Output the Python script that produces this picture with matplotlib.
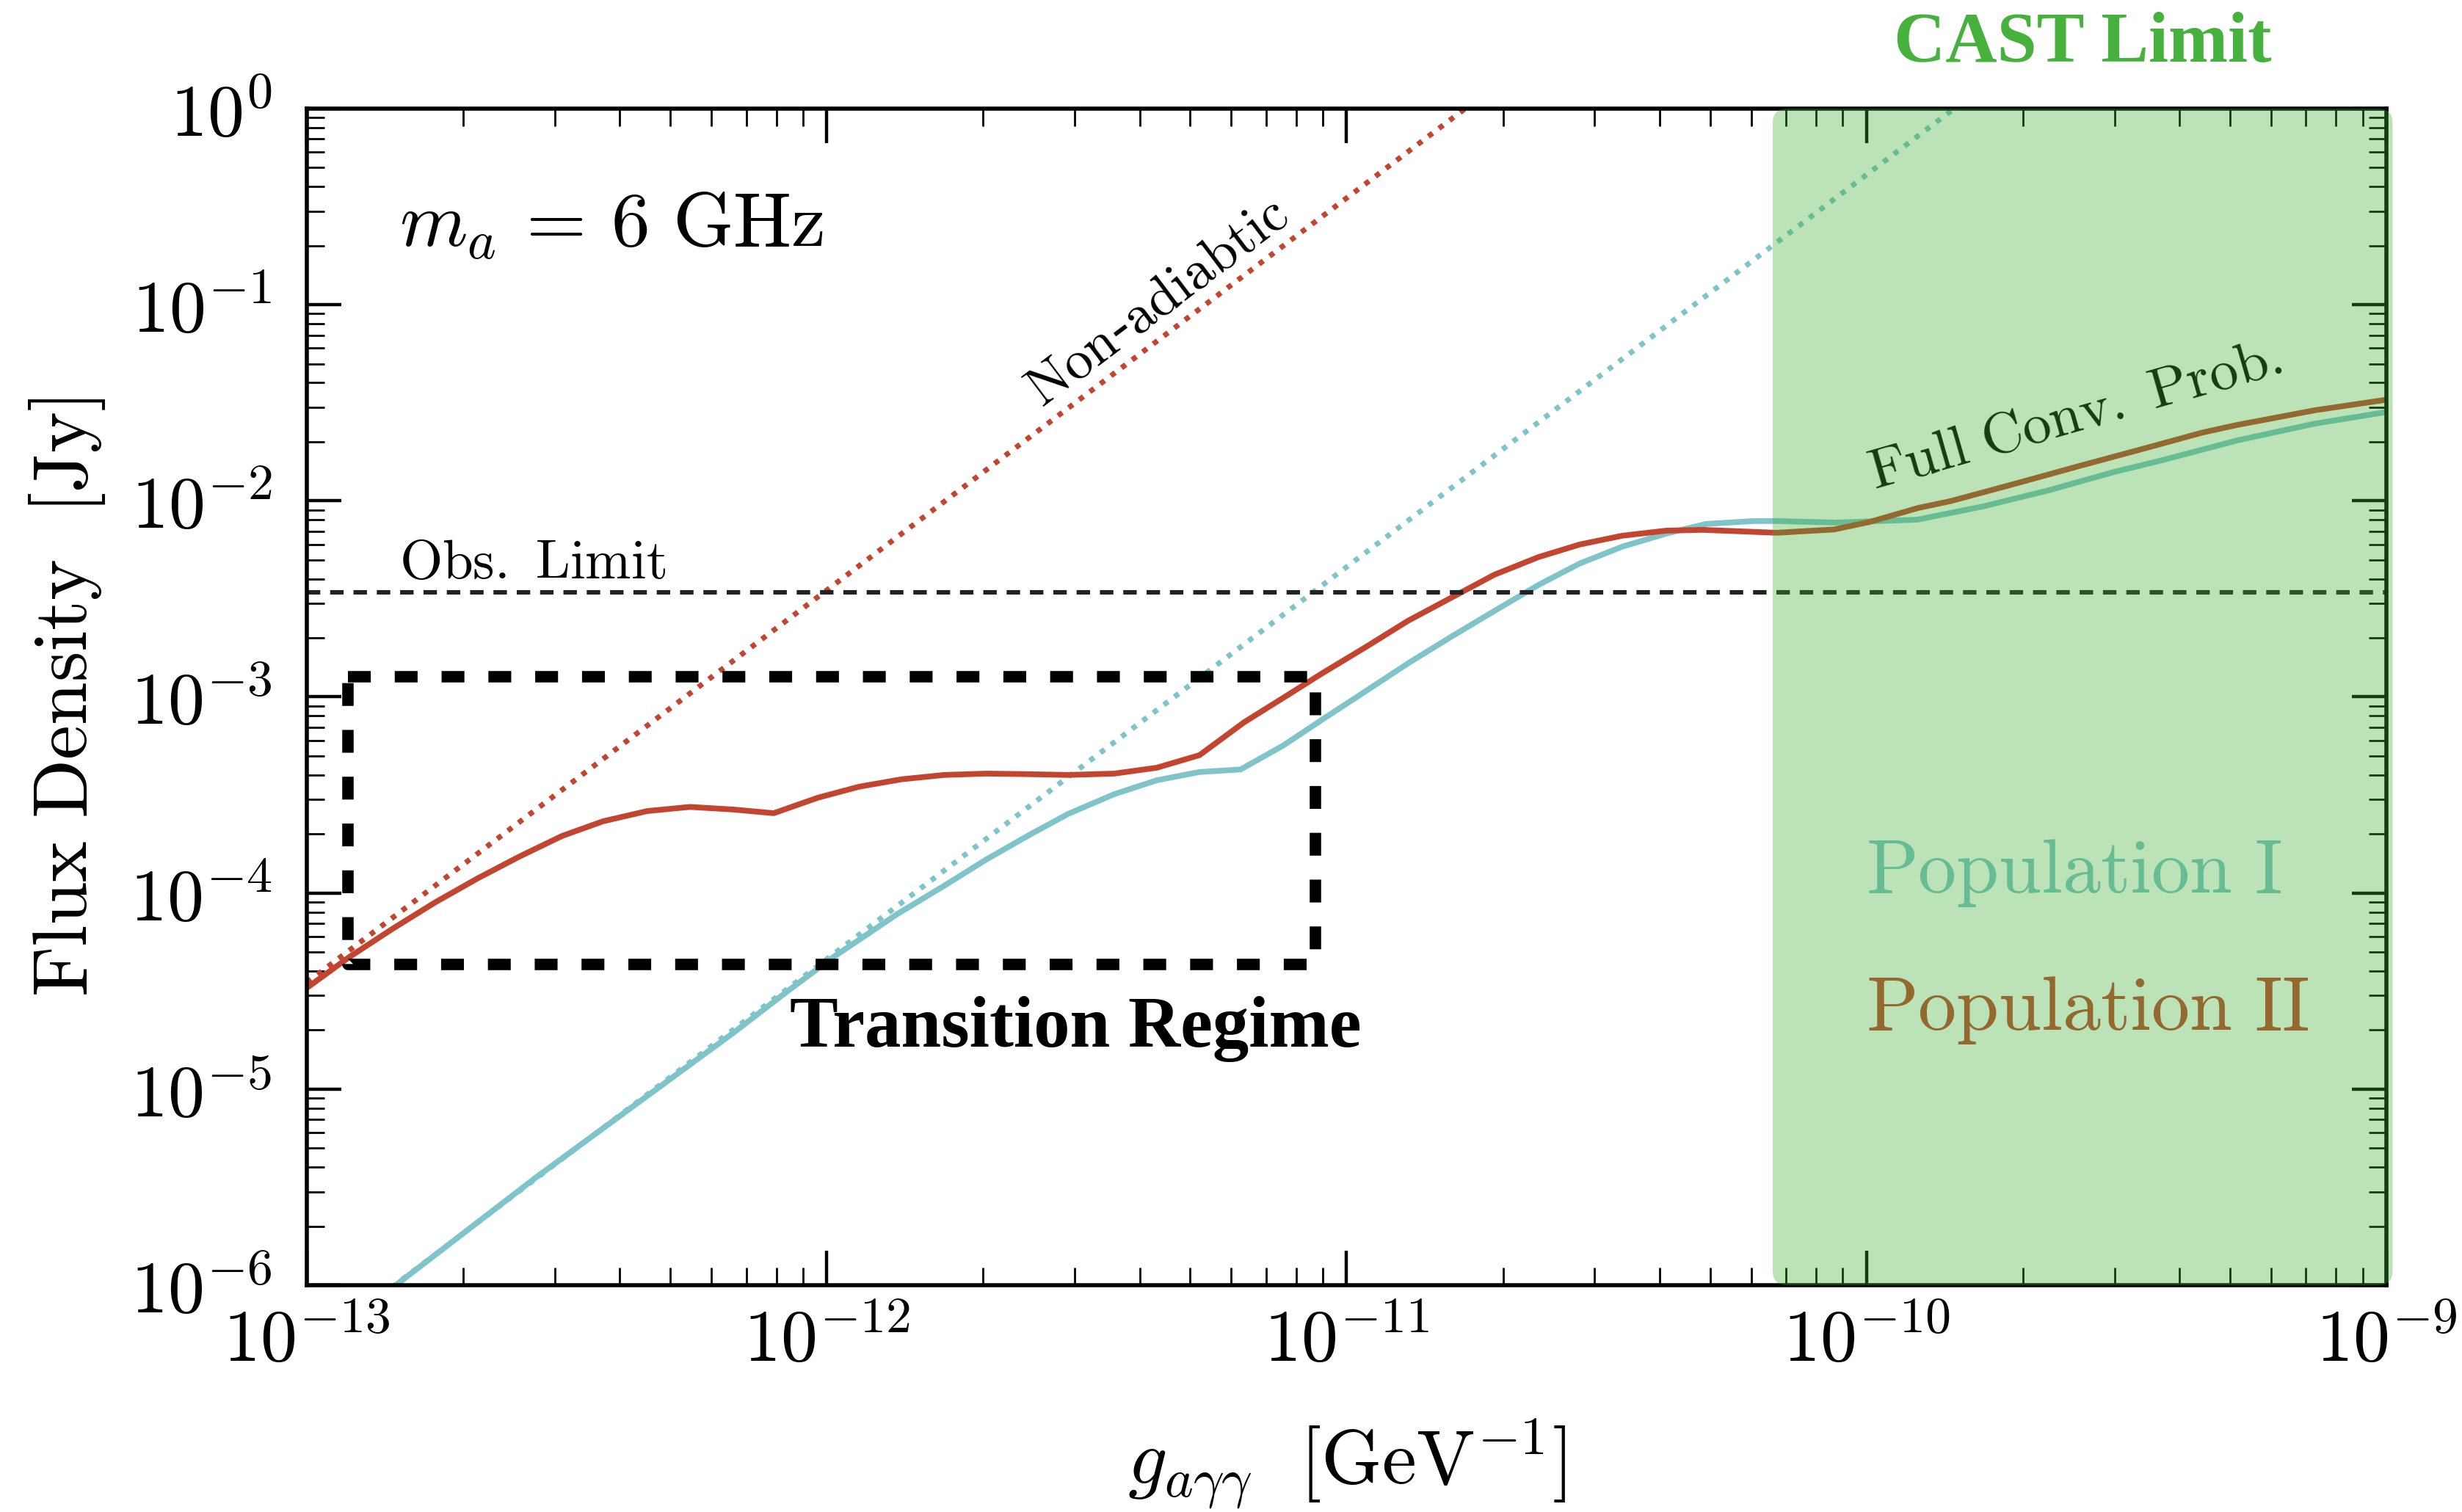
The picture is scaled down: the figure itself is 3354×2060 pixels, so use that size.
import numpy as np
import matplotlib
matplotlib.use("Agg")
import matplotlib.pyplot as plt
from matplotlib.patches import FancyBboxPatch
from matplotlib.ticker import FuncFormatter, LogLocator, NullFormatter

plt.rcParams["mathtext.fontset"] = "cm"

# ---------------- data (log10 of coupling [GeV^-1] and flux density [Jy]) ----------------
log_g_pop2 = [-13.0, -12.918, -12.836, -12.754, -12.672, -12.591, -12.509, -12.430, -12.345,
              -12.263, -12.181, -12.102, -12.017, -11.938, -11.856, -11.774, -11.693, -11.611,
              -11.536, -11.447, -11.365, -11.283, -11.197, -11.122, -11.046, -10.964, -10.882,
              -10.800, -10.716, -10.631, -10.552, -10.470, -10.385, -10.315, -10.173, -10.062,
              -9.993, -9.900, -9.839, -9.713, -9.586, -9.460, -9.354, -9.287, -9.137, -9.004]
log_flux_pop2 = [-4.484, -4.326, -4.184, -4.049, -3.926, -3.814, -3.709, -3.634, -3.582,
                 -3.561, -3.574, -3.593, -3.514, -3.458, -3.420, -3.398, -3.391, -3.394,
                 -3.398, -3.391, -3.361, -3.297, -3.129, -3.005, -2.878, -2.747, -2.612,
                 -2.496, -2.377, -2.287, -2.223, -2.178, -2.152, -2.148, -2.163, -2.146,
                 -2.107, -2.036, -2.002, -1.912, -1.819, -1.729, -1.652, -1.613, -1.538, -1.486]

log_g_pop1 = [-13.0, -12.829, -12.559, -12.178, -12.078, -11.989, -11.863, -11.774, -11.693,
              -11.611, -11.536, -11.447, -11.365, -11.283, -11.204, -11.122, -11.046, -10.964,
              -10.882, -10.800, -10.716, -10.631, -10.552, -10.470, -10.385, -10.309, -10.216,
              -10.173, -10.059, -9.902, -9.775, -9.649, -9.524, -9.436, -9.354, -9.287, -9.137,
              -9.004]
log_flux_pop1 = [-6.34, -6.00, -5.45, -4.71, -4.506, -4.330, -4.105, -3.963, -3.829,
                 -3.705, -3.597, -3.496, -3.425, -3.383, -3.370, -3.248, -3.114, -2.972,
                 -2.829, -2.695, -2.562, -2.429, -2.320, -2.234, -2.167, -2.118, -2.103,
                 -2.103, -2.111, -2.096, -2.028, -1.946, -1.853, -1.796, -1.739, -1.692, -1.606,
                 -1.549]

# non-adiabatic (perturbative) estimates
g_nonad = [1e-13, 1e-12, 1e-11, 1e-10, 1e-9]
flux_nonad_pop2 = [3.5e-5, 3.5e-3, 3.5e-1, 3.5e1, 3.5e3]
flux_nonad_pop1 = [4.6e-7, 4.6e-5, 4.6e-3, 4.6e-1, 4.6e1]

obs_limit = 3.42e-3          # Jy
cast_limit = 6.6e-11         # GeV^-1
transition_g = [1.2e-13, 8.7e-12]
transition_flux = [4.33e-5, 1.27e-3]

# ---------------- styling ----------------
red = "#c4452f"
teal = "#7ec4c8"
cast_green = "#3daf31"

fig = plt.figure(figsize=(16.775, 10.3), dpi=200)
ax = fig.add_axes([418 / 3355, 1 - 1751 / 2060, 2833 / 3355, 1603 / 2060])
ax.set_xscale("log")
ax.set_yscale("log")
ax.set_xlim(1e-13, 1e-9)
ax.set_ylim(1e-6, 1e0)

# curves
ax.plot(g_nonad, flux_nonad_pop2, color=red, lw=2.6, ls=(0, (1, 1.5)), zorder=1.8)
ax.plot(g_nonad, flux_nonad_pop1, color=teal, lw=2.6, ls=(0, (1, 1.5)), zorder=1.8)
ax.plot(10 ** np.array(log_g_pop1), 10 ** np.array(log_flux_pop1), color=teal, lw=2.8, zorder=2)
ax.plot(10 ** np.array(log_g_pop2), 10 ** np.array(log_flux_pop2), color=red, lw=2.8, zorder=2.05)

# observational limit
ax.axhline(obs_limit, color="#222222", lw=2.2, ls=(0, (3, 2.2)), zorder=2.1)

# transition regime box
bx = [transition_g[0], transition_g[1], transition_g[1], transition_g[0], transition_g[0]]
by = [transition_flux[1], transition_flux[1], transition_flux[0], transition_flux[0], transition_flux[1]]
ax.plot(bx, by, color="black", lw=5.6, ls=(0, (2, 2.1)), solid_capstyle="butt",
        dash_capstyle="butt", zorder=2.2)

# ticks
fmt = FuncFormatter(lambda v, pos: r"$10^{%d}$" % int(round(np.log10(v))))
for axis in (ax.xaxis, ax.yaxis):
    axis.set_major_locator(LogLocator(base=10, numticks=100))
    axis.set_minor_locator(LogLocator(base=10, subs=np.arange(2, 10), numticks=100))
    axis.set_major_formatter(fmt)
    axis.set_minor_formatter(NullFormatter())
ax.tick_params(which="both", direction="in", top=True, right=True, labelsize=36)
ax.tick_params(which="major", length=17, width=1.6)
ax.tick_params(which="minor", length=8.6, width=1.0)
ax.tick_params(axis="x", which="major", pad=10)
ax.tick_params(axis="y", which="major", pad=17)
for s in ax.spines.values():
    s.set_linewidth(2.0)

ax.set_xlabel(r"$g_{a\gamma\gamma}\ \ [\mathrm{GeV}^{-1}]$", fontsize=38)
ax.set_ylabel(r"$\mathrm{Flux\ Density}\ \ [\mathrm{Jy}]$", fontsize=38)
ax.xaxis.set_label_coords(0.5, -0.112)
ax.yaxis.set_label_coords(-0.096, 0.5)

# annotations
ax.text(0.0445, 0.883, r"$m_a\,=\,6\ \mathrm{GHz}$", transform=ax.transAxes, fontsize=38,
        ha="left", va="baseline")
ax.text(0.0445, 0.6007, r"$\mathrm{Obs.\ Limit}$", transform=ax.transAxes, fontsize=27,
        ha="left", va="baseline")
ax.text(0.4091, 0.8347, r"$\mathrm{Non}$-$\mathrm{adiabtic}$", transform=ax.transAxes,
        fontsize=27, rotation=37, rotation_mode="anchor", ha="center", va="center")
ax.text(0.8500, 0.7392, r"$\mathrm{Full\ Conv.\ Prob.}$", transform=ax.transAxes,
        fontsize=28, rotation=16, rotation_mode="anchor", ha="center", va="center", zorder=2.8)
ax.text(0.7497, 0.3337, r"$\mathrm{Population\ I}$", transform=ax.transAxes, fontsize=37.5,
        color=teal, ha="left", va="baseline", zorder=2.8)
ax.text(0.7497, 0.2171, r"$\mathrm{Population\ II}$", transform=ax.transAxes, fontsize=37.5,
        color=red, ha="left", va="baseline", zorder=2.8)
ax.text(0.2323, 0.2027, "Transition Regime", transform=ax.transAxes, fontsize=35.5,
        family="Liberation Serif", weight="bold", ha="left", va="baseline", zorder=2.8)

# CAST excluded region, shaded on top of everything inside the frame
fig.canvas.draw()
x0 = ax.transAxes.inverted().transform(ax.transData.transform((cast_limit, 1.0)))[0]
W = ax.bbox.width
H = ax.bbox.height
cast_box = FancyBboxPatch((x0, 0.0), 1.003 - x0, 1.0, transform=ax.transAxes,
                          boxstyle="round,pad=0,rounding_size=0.007",
                          mutation_aspect=W / H, facecolor=cast_green, edgecolor="none",
                          alpha=0.35, zorder=3, clip_on=False)
ax.add_patch(cast_box)
ax.text((x0 + 1.003) / 2, 1.04, "CAST Limit", transform=ax.transAxes, fontsize=35,
        family="Liberation Serif", weight="bold", color="#46b13c", ha="center",
        va="baseline", clip_on=False)

fig.savefig("out.png", dpi=200)
